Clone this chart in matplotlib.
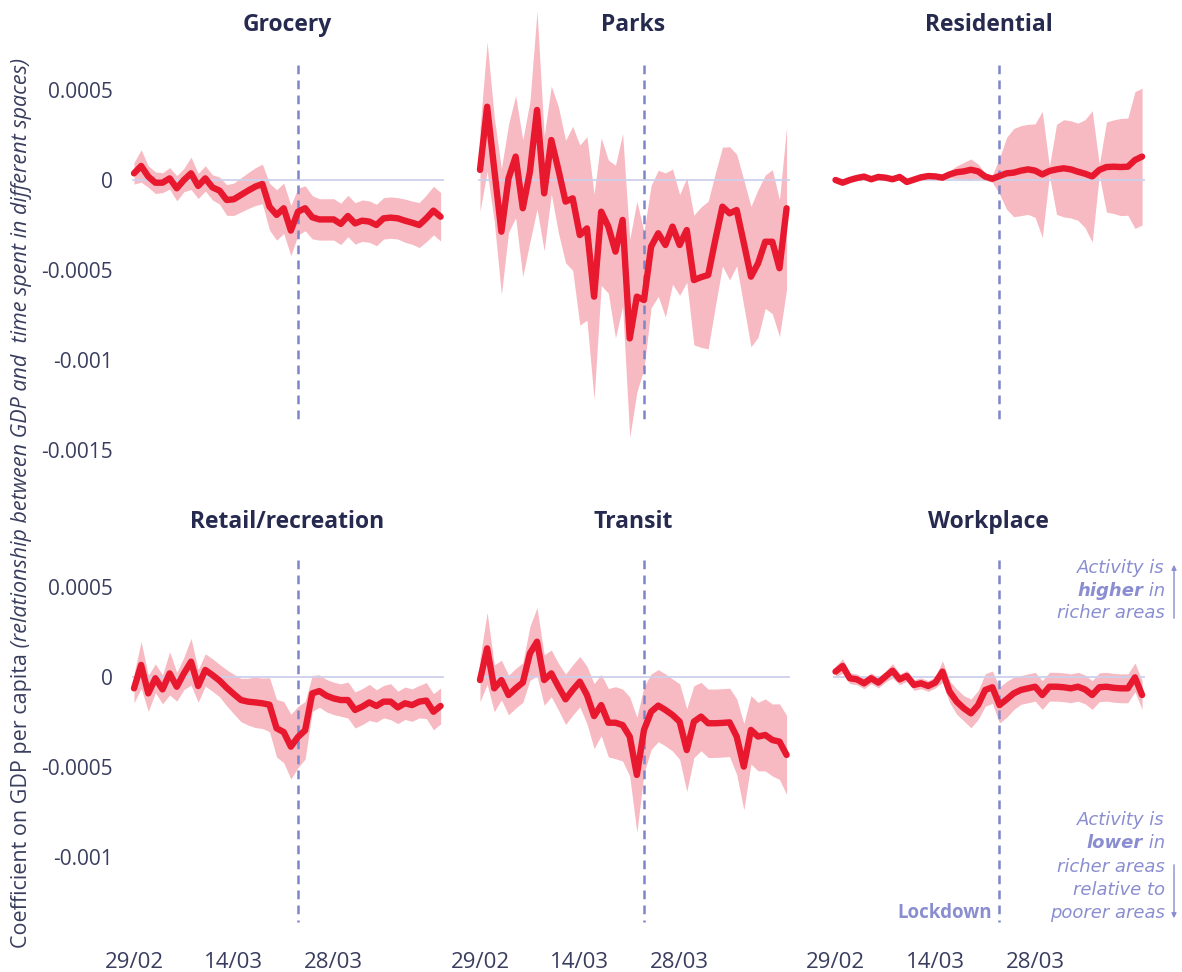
import numpy as np
import matplotlib.pyplot as plt
from matplotlib.patches import FancyArrowPatch

plt.rcParams['font.family'] = 'Open Sans'

# daily coefficient on GDP per capita from 29/02, in units of 1e-4,
# with the half-width of its confidence band
grocery = [0.37, 0.78, 0.19, -0.15, -0.15, 0.09, -0.46, 0.0, 0.37, -0.33,
           0.09, -0.41, -0.59, -1.11, -1.07, -0.83, -0.59, -0.37, -0.22, -1.48,
           -1.94, -1.57, -2.81, -1.76, -1.57, -2.07, -2.19, -2.19, -2.19, -2.44,
           -2.0, -2.41, -2.26, -2.31, -2.5, -2.13, -2.09, -2.13, -2.26, -2.37,
           -2.5, -2.13, -1.7, -2.04]
grocery_ci = [0.6, 0.9, 0.6, 0.6, 0.55, 0.6, 0.7, 0.65, 0.9, 0.7,
              0.7, 0.7, 0.75, 0.85, 0.9, 0.95, 1.0, 1.05, 1.1, 1.3,
              1.4, 1.4, 1.4, 1.3, 1.25, 1.2, 1.15, 1.15, 1.15, 1.15,
              1.15, 1.15, 1.15, 1.15, 1.15, 1.15, 1.15, 1.15, 1.2, 1.2,
              1.25, 1.3, 1.35, 1.35]

parks = [0.56, 4.07, 0.6, -2.87, 0.09, 1.3, -1.57, 0.46, 3.89, -0.74,
         2.22, 0.56, -1.2, -1.02, -3.06, -2.69, -6.48, -1.76, -2.59, -3.98,
         -2.22, -8.8, -6.48, -6.67, -3.7, -2.96, -3.61, -2.59, -3.61, -2.78,
         -5.56, -5.4, -5.28, -3.33, -1.48, -1.85, -1.67, -3.5, -5.37, -4.63,
         -3.43, -3.43, -4.9, -1.57]
parks_ci = [2.3, 3.6, 2.9, 3.5, 3.0, 3.4, 3.8, 3.9, 5.5, 3.2,
            3.0, 3.5, 3.4, 4.0, 5.0, 5.1, 5.7, 4.1, 3.7, 4.8,
            4.8, 5.5, 5.3, 3.8, 3.4, 3.5, 4.0, 3.2, 2.8, 2.9,
            3.6, 3.9, 4.1, 3.7, 3.3, 3.7, 3.1, 3.5, 3.9, 4.1,
            3.7, 4.0, 3.8, 4.5]

residential = [0.0, -0.15, 0.0, 0.11, 0.19, 0.04, 0.17, 0.13, 0.04, 0.17,
               -0.11, 0.02, 0.15, 0.22, 0.2, 0.13, 0.31, 0.43, 0.48, 0.57,
               0.48, 0.19, 0.07, 0.22, 0.37, 0.41, 0.52, 0.59, 0.52, 0.31,
               0.5, 0.59, 0.65, 0.59, 0.46, 0.35, 0.2, 0.56, 0.72, 0.74,
               0.72, 0.74, 1.11, 1.3]
residential_ci = [0.1, 0.1, 0.1, 0.1, 0.1, 0.1, 0.1, 0.1, 0.1, 0.1,
                  0.1, 0.1, 0.1, 0.1, 0.1, 0.1, 0.2, 0.35, 0.5, 0.6,
                  0.4, 0.2, 0.2, 1.0, 2.0, 2.45, 2.5, 2.5, 2.6, 3.5,
                  0.25, 2.5, 2.7, 2.7, 2.7, 3.0, 3.65, 0.3, 2.5, 2.6,
                  2.7, 2.7, 3.8, 3.8]

retail = [-0.63, 0.67, -0.91, -0.07, -0.69, 0.2, -0.54, 0.2, 0.85, -0.5,
          0.39, 0.11, -0.2, -0.6, -0.95, -1.28, -1.37, -1.41, -1.46, -1.54,
          -2.85, -3.06, -3.87, -3.33, -2.96, -0.91, -0.78, -1.04, -1.19, -1.28,
          -1.28, -1.83, -1.65, -1.41, -1.61, -1.37, -1.37, -1.69, -1.46, -1.56,
          -1.37, -1.31, -1.93, -1.61]
retail_ci = [0.8, 1.3, 1.0, 0.8, 0.8, 1.2, 0.8, 0.9, 1.3, 0.9,
             0.9, 0.9, 0.9, 1.0, 1.1, 1.2, 1.3, 1.4, 1.4, 1.5,
             1.6, 1.7, 1.8, 1.7, 1.6, 1.0, 0.9, 0.9, 0.9, 0.9,
             1.0, 1.0, 1.0, 1.0, 0.9, 0.9, 1.0, 0.9, 0.9, 0.9,
             0.9, 1.0, 1.0, 1.0]

transit = [-0.17, 1.59, -0.63, -0.17, -1.0, -0.63, -0.31, 1.31, 1.96, -0.17,
           0.2, -0.54, -1.24, -0.72, -0.26, -1.0, -2.17, -1.56, -2.54, -2.54,
           -2.67, -3.31, -5.44, -2.94, -1.93, -1.59, -1.83, -2.11, -2.48, -4.06,
           -2.48, -2.2, -2.57, -2.57, -2.55, -2.52, -3.31, -4.98, -2.94, -3.31,
           -3.22, -3.5, -3.59, -4.33]
transit_ci = [1.2, 2.0, 1.3, 1.1, 1.1, 1.1, 1.1, 1.5, 1.9, 1.4,
              1.3, 1.3, 1.4, 1.4, 1.4, 1.6, 1.8, 1.7, 1.9, 2.0,
              2.0, 2.2, 3.2, 2.4, 2.1, 2.0, 2.0, 2.0, 2.1, 2.3,
              2.0, 1.9, 1.9, 1.9, 1.9, 1.9, 2.1, 2.4, 1.9, 1.9,
              2.0, 2.0, 2.1, 2.2]

workplace = [0.3, 0.61, -0.07, -0.13, -0.35, -0.07, -0.31, 0.02, 0.35, -0.13,
             0.06, -0.44, -0.35, -0.5, -0.31, 0.3, -0.81, -1.37, -1.74, -2.02,
             -1.56, -0.72, -0.57, -1.56, -1.24, -0.91, -0.72, -0.63, -0.54, -1.0,
             -0.54, -0.54, -0.57, -0.63, -0.54, -0.69, -1.0, -0.57, -0.54, -0.6,
             -0.63, -0.63, -0.02, -1.0]
workplace_ci = [0.3, 0.4, 0.3, 0.3, 0.3, 0.3, 0.3, 0.3, 0.4, 0.3,
                0.3, 0.3, 0.3, 0.3, 0.3, 0.6, 0.6, 0.7, 0.7, 0.8,
                0.8, 0.9, 0.9, 1.0, 1.0, 0.9, 0.8, 0.8, 0.8, 0.8,
                0.8, 0.8, 0.8, 0.8, 0.8, 0.8, 0.8, 0.8, 0.8, 0.8,
                0.8, 0.8, 0.8, 0.8]

titles = ['Grocery', 'Parks', 'Residential', 'Retail/recreation', 'Transit', 'Workplace']
date_ticks = [0, 14, 28]
date_labels = ['29/02', '14/03', '28/03']
lockdown_day = 23
yticks_top = [0.0005, 0, -0.0005, -0.001, -0.0015]
yticks_bottom = [0.0005, 0, -0.0005, -0.001]

W, H = 1182, 972
RED = '#e8182f'
PINK = '#f7bac2'
NAVY = '#262a4f'
GREY = '#3a3e5e'
LILAC = '#8a8ed0'
DASH = '#7e85c8'
ZERO = '#cdd0ea'

col_x0 = [134, 480, 835.5]      # pixel x of 29/02 in each column
day_px = 7.13
val_px = 0.0005 / 90            # coefficient per pixel
rows = [dict(top=5, zero=180, bottom=470, dash=(65, 425), title_y=25, yticks=yticks_top),
        dict(top=490, zero=677, bottom=925, dash=(560, 922), title_y=522, yticks=yticks_bottom)]


def fig_xy(x, y):
    return x / W, 1 - y / H


def panel(fig, row, col, mean, ci, title):
    r = rows[row]
    left = col_x0[col] - 2 * day_px
    ax = fig.add_axes([left / W, 1 - r['bottom'] / H, 47 * day_px / W,
                       (r['bottom'] - r['top']) / H])
    mean = np.asarray(mean) * 1e-4
    ci = np.asarray(ci) * 1e-4
    days = np.arange(len(mean))

    ax.fill_between(days, mean - ci, mean + ci, color=PINK, lw=0, zorder=1)
    ax.plot([-0.2, days[-1] + 0.3], [0, 0], color=ZERO, lw=1.3, zorder=2)
    d0, d1 = r['dash']
    ax.plot([lockdown_day, lockdown_day],
            [(r['zero'] - d0) * val_px, (r['zero'] - d1) * val_px],
            color=DASH, lw=1.8, ls=(0, (3.5, 2.5)), zorder=3)
    ax.plot(days, mean, color=RED, lw=4.6, solid_capstyle='round',
            solid_joinstyle='round', zorder=4)

    ax.set_xlim(-2, 45)
    ax.set_ylim((r['zero'] - r['bottom']) * val_px, (r['zero'] - r['top']) * val_px)
    for s in ax.spines.values():
        s.set_visible(False)
    ax.patch.set_alpha(0)
    ax.tick_params(length=0, colors=GREY)

    if col == 0:
        ax.set_yticks(r['yticks'])
        ax.set_yticklabels([f'{v:g}' for v in r['yticks']], fontsize=15, color=GREY)
        ax.tick_params(axis='y', pad=5)
    else:
        ax.set_yticks([])
    if row == 1:
        ax.set_xticks(date_ticks)
        ax.set_xticklabels(date_labels, fontsize=16, color=GREY)
        ax.tick_params(axis='x', pad=19.5)
    else:
        ax.set_xticks([])

    fig.text(*fig_xy(col_x0[col] + 21.5 * day_px, r['title_y']), title,
             ha='center', va='center', fontsize=16.5, fontweight='bold', color=NAVY)
    return ax


def right_line(fig, renderer, x, y, parts):
    # pieces are laid out right to left so the line ends at x
    for text, weight in reversed(parts):
        t = fig.text(*fig_xy(x, y), text, ha='right', va='center', fontsize=13,
                     style='italic', fontweight=weight, color=LILAC, family='DejaVu Sans')
        x = t.get_window_extent(renderer).x0


def figure_mobility():
    fig = plt.figure(figsize=(W / 100, H / 100), dpi=100)
    renderer = fig.canvas.get_renderer()

    series = [(grocery, grocery_ci), (parks, parks_ci), (residential, residential_ci),
              (retail, retail_ci), (transit, transit_ci), (workplace, workplace_ci)]
    for k, ((mean, ci), title) in enumerate(zip(series, titles)):
        panel(fig, k // 3, k % 3, mean, ci, title)

    # y label: plain part followed by an italic aside
    t1 = fig.text(*fig_xy(21, 948), 'Coefficient on GDP per capita', rotation=90,
                  rotation_mode='anchor', ha='left', va='center', fontsize=15.5, color=GREY)
    bb = t1.get_window_extent(renderer)
    fig.text(21 / W, bb.y1 / H, ' (relationship between GDP and  time spent in different spaces)',
             rotation=90, rotation_mode='anchor', ha='left', va='center',
             fontsize=15.5, style='italic', color=GREY)

    right_line(fig, renderer, 1165, 568, [('Activity is', 'normal')])
    right_line(fig, renderer, 1165, 591, [('higher', 'bold'), (' in', 'normal')])
    right_line(fig, renderer, 1165, 613, [('richer areas', 'normal')])

    right_line(fig, renderer, 1165, 820, [('Activity is', 'normal')])
    right_line(fig, renderer, 1165, 843, [('lower', 'bold'), (' in', 'normal')])
    right_line(fig, renderer, 1165, 867, [('richer areas', 'normal')])
    right_line(fig, renderer, 1165, 890, [('relative to', 'normal')])
    right_line(fig, renderer, 1165, 913, [('poorer areas', 'normal')])

    for y0, y1 in [(621, 562), (862, 921)]:
        fig.add_artist(FancyArrowPatch(fig_xy(1174, y0), fig_xy(1174, y1),
                                       transform=fig.transFigure, arrowstyle='-|>',
                                       mutation_scale=7, color=LILAC, lw=1))

    fig.text(*fig_xy(992, 913), 'Lockdown', ha='right', va='center', fontsize=13.5,
             fontweight='bold', color=LILAC)
    return fig


if __name__ == "__main__":
    fig = figure_mobility()
    fig.savefig('out.png', dpi=100)
